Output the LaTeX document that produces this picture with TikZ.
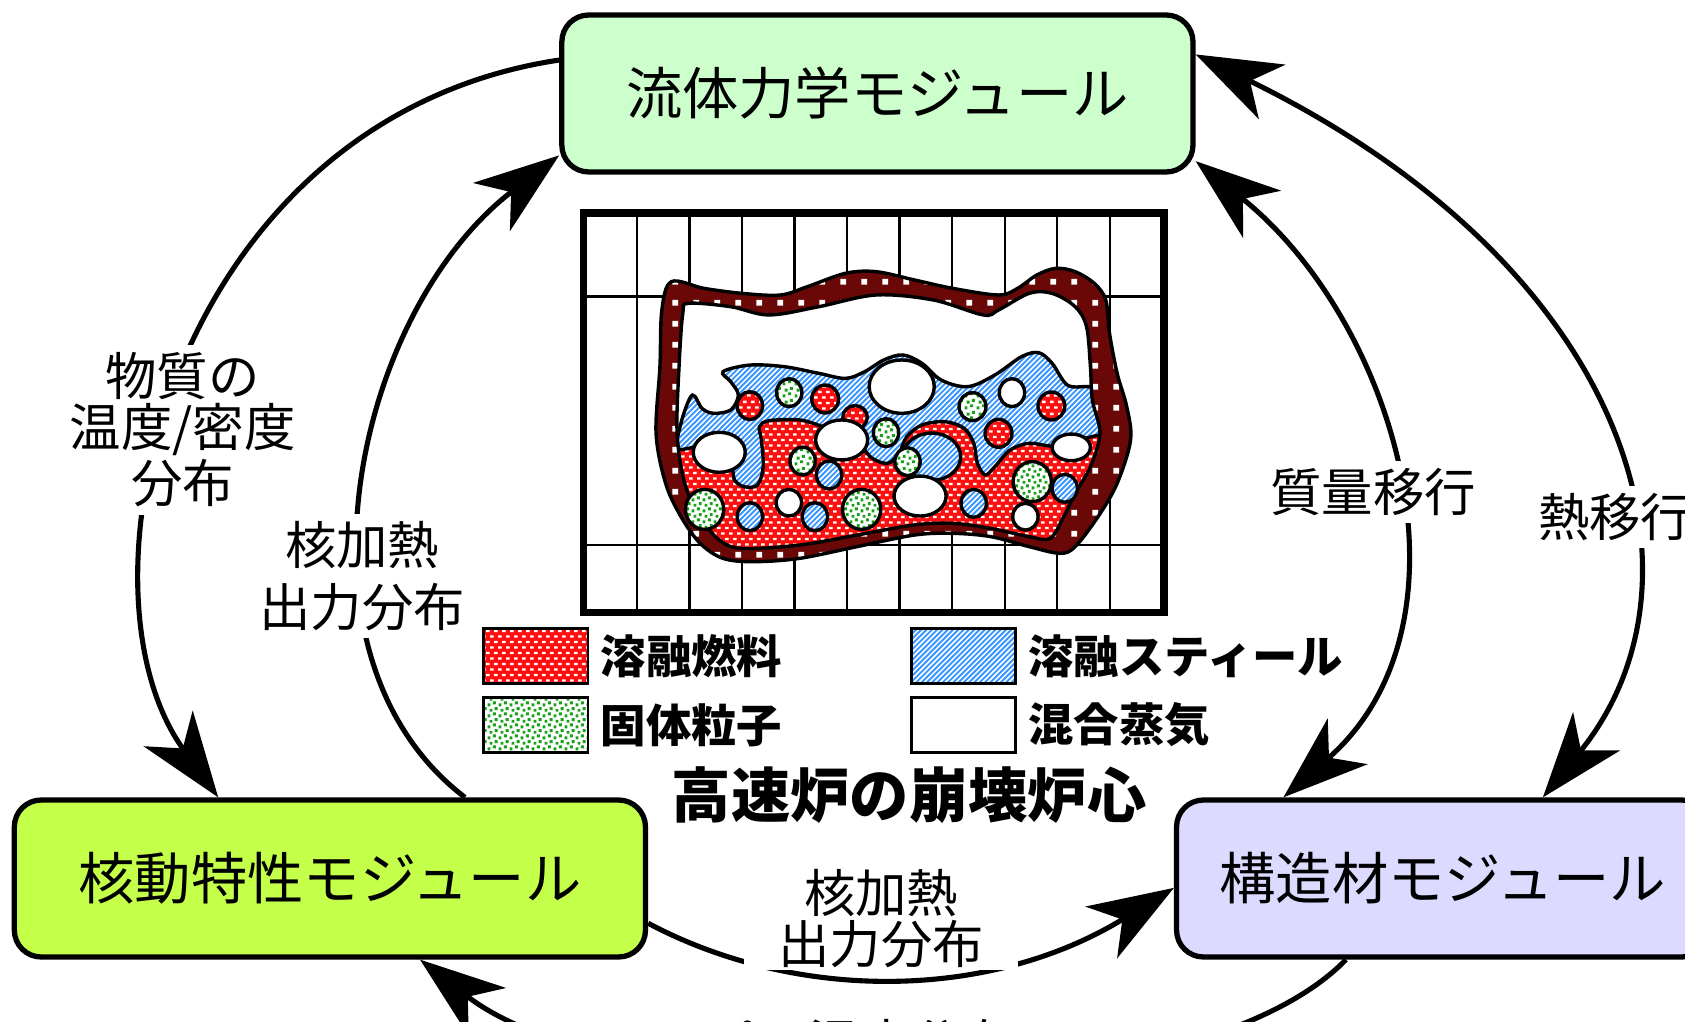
\documentclass[tikz,border=0pt]{standalone}
\usepackage{fontspec}
\setmainfont{Noto Sans CJK JP}
\usetikzlibrary{arrows.meta,patterns,positioning}

\definecolor{fluidgreen}{RGB}{204,255,204}
\definecolor{nucleargreen}{RGB}{196,255,74}
\definecolor{structlilac}{RGB}{220,218,255}
\definecolor{fuelred}{RGB}{255,16,16}
\definecolor{steelblue}{RGB}{58,150,255}
\definecolor{solidgreen}{RGB}{24,160,24}
\definecolor{banddark}{RGB}{106,8,8}

\pgfdeclarepatternformonly{fuelmark}{\pgfpointorigin}{\pgfpoint{2.2pt}{3pt}}{\pgfpoint{2.2pt}{3pt}}{
  \pgfpathrectangle{\pgfpoint{0.05pt}{0.4pt}}{\pgfpoint{1pt}{0.62pt}}
  \pgfpathrectangle{\pgfpoint{1.15pt}{1.9pt}}{\pgfpoint{1pt}{0.62pt}}
  \pgfusepath{fill}}
\pgfdeclarepatternformonly{steelmark}{\pgfpoint{-0.5pt}{-0.5pt}}{\pgfpoint{1.9pt}{1.9pt}}{\pgfpoint{1.4pt}{1.4pt}}{
  \pgfsetlinewidth{0.5pt}
  \pgfpathmoveto{\pgfpointorigin}
  \pgfpathlineto{\pgfpoint{1.45pt}{1.45pt}}
  \pgfusepath{stroke}}
\pgfdeclarepatternformonly{solidmark}{\pgfpointorigin}{\pgfpoint{3pt}{3pt}}{\pgfpoint{3pt}{3pt}}{
  \pgfpathrectangle{\pgfpoint{0.15pt}{0.2pt}}{\pgfpoint{0.8pt}{0.8pt}}
  \pgfpathrectangle{\pgfpoint{1.65pt}{0.75pt}}{\pgfpoint{0.8pt}{0.8pt}}
  \pgfpathrectangle{\pgfpoint{0.7pt}{1.75pt}}{\pgfpoint{0.8pt}{0.8pt}}
  \pgfpathrectangle{\pgfpoint{2.15pt}{2.2pt}}{\pgfpoint{0.8pt}{0.8pt}}
  \pgfusepath{fill}}
\pgfdeclarepatternformonly{bandmark}{\pgfpointorigin}{\pgfpoint{5.5pt}{5.5pt}}{\pgfpoint{5.5pt}{5.5pt}}{
  \pgfpathrectangle{\pgfpoint{2pt}{2pt}}{\pgfpoint{1.5pt}{1.5pt}}
  \pgfusepath{fill}}

\newcommand\cavitypath{plot[smooth cycle, tension=0.55] coordinates {(640.8,282.3) (680,285.4) (715.6,293.1) (761.9,285.4) (815.3,274.5) (868.7,279.2) (915,293.1) (929.2,288.5) (957.7,273) (979.1,273) (1000.5,285.4) (1011.1,304) (1014.7,341.2) (1016.5,372.2) (1023.6,403.2) (1014.7,434.3) (1000.5,459.1) (989.8,480.8) (977.3,501) (957.7,499.4) (922.1,491.7) (886.5,487) (850.9,488.5) (797.5,497.9) (744.1,507.2) (690.6,510.3) (669.3,502.5) (651.5,480.8) (637.2,449.8) (630.1,403.2) (631.9,341.2) (635.4,291.6)}}

\begin{document}
\begin{tikzpicture}[x=0.01cm, y=-0.01cm, >={Stealth[length=22.5pt,width=16pt,inset=6.5pt]},
    module/.style={draw, line width=1.4pt, rounded corners=0.25cm, minimum width=5.87cm, minimum height=1.46cm, font=\fontsize{14.9}{18}\selectfont},
    flow/.style={line width=1.35pt},
    flowtext/.style={fill=white, align=center, inner sep=2pt, font=\fontsize{13.6}{13.4}\selectfont},
    keybox/.style={draw, line width=0.7pt, minimum width=0.97cm, minimum height=0.51cm, inner sep=0pt},
    keytext/.style={inner sep=0pt, font=\bfseries\fontsize{12}{14}\selectfont},
    fuel/.style={preaction={fill=fuelred}, pattern=fuelmark, pattern color=white},
    steel/.style={preaction={fill=white}, pattern=steelmark, pattern color=steelblue},
    solid/.style={preaction={fill=white}, pattern=solidmark, pattern color=solidgreen},
    band/.style={preaction={fill=banddark}, pattern=bandmark, pattern color=white},
    edge/.style={line width=0.9pt}]
  \useasboundingbox (0,0) rectangle (1568,951);

  \foreach \gx in {0,...,9}
    \draw[line width=0.6pt] (592.6+48.9*\gx,198) -- (592.6+48.9*\gx,570);
  \draw[line width=0.6pt] (543,276) -- (1083,276) (543,507) -- (1083,507);
  \draw[line width=2pt] (543,198) rectangle (1083,570);

  \draw[band, edge] plot[smooth cycle, tension=0.55] coordinates {(624.8,262.1) (615.9,288.5) (614.1,341.2) (610.5,403.2) (619.4,449.8) (633.7,480.8) (651.5,505.6) (672.8,519.6) (701.3,522.7) (744.1,519.6) (797.5,508.7) (850.9,497.9) (886.5,496.3) (922.1,499.4) (957.7,508.7) (986.2,514.9) (1000.5,508.7) (1021.8,480.8) (1039.6,449.8) (1052.1,409.4) (1048.5,378.4) (1039.6,347.4) (1032.5,310.2) (1029,279.2) (1018.3,263.7) (1000.5,252.8) (982.6,249.7) (964.8,255.9) (947,268.3) (929.2,274.5) (886.5,268.3) (850.9,260.5) (815.3,252.8) (786.8,254.3) (751.2,266.8) (726.3,274.5) (690.6,273) (655,268.3)};
  \fill[white] \cavitypath;
  \begin{scope}
    \clip \cavitypath;
    \draw[steel, edge] plot[smooth, tension=0.55] coordinates {(628,418) (635.4,387.7) (644.4,367.6) (653.3,380) (663.9,384.6) (680,381.5) (687.1,367.6) (680,355.2) (672.8,345.9) (697.8,339.7) (729.8,341.2) (761.9,347.4) (786.8,352.1) (804.6,345.9) (822.4,335) (840.2,330.3) (858,338.1) (875.8,353.6) (900.7,359.8) (925.7,349) (950.6,331.9) (966.6,328.2) (979.1,338.1) (993.3,358.3) (1012.9,359.8) (1030,362)} -- (1045,362) -- (1045,540) -- (610,540) -- (610,418) -- cycle;
    \draw[fuel, edge] plot[smooth, tension=0.55] coordinates {(612,419) (630.8,418.8) (647.9,415.6) (658.6,412.5) (680,434.3) (683.5,446.7) (692.4,452.9) (704.9,451.3) (710.2,434.3) (708.5,409.4) (706.7,397) (715.6,391.5) (744.1,390.8) (765.4,397) (779.7,403.2) (801,415.6) (811.7,426.5) (826,431.2) (836.6,421.9) (843.8,406.3) (858,395.5) (879.4,392.4) (897.2,398.6) (906.1,412.5) (909.6,431.2) (916.8,442) (925.7,434.3) (939.9,418.8) (957.7,412.5) (979.1,415) (1000.5,410.1) (1023.6,404.8) (1040,404)} -- (1045,540) -- (610,540) -- cycle;
  \end{scope}
  \draw[edge] \cavitypath;
  \draw[steel, edge] (867,425) ellipse [x radius=27, y radius=22];

  \foreach \cx/\cy/\rx/\ry in {697.8/377.5/11.8/13, 767.9/371.3/12.5/13, 795.7/388.3/11.4/10.9, 978.4/377.8/12.5/13, 929.2/403.2/12.5/13}
    \draw[fuel, edge] (\cx,\cy) ellipse [x radius=\rx, y radius=\ry];
  \foreach \cx/\cy/\rx/\ry in {771.5/442/11.8/13, 697.8/480.8/11.8/13, 758.3/480.8/11.8/13, 906.1/468.4/11.8/13, 990.8/454.4/11.8/13}
    \draw[steel, edge] (\cx,\cy) ellipse [x radius=\rx, y radius=\ry];
  \foreach \cx/\cy/\rx/\ry in {734.4/365.4/11.8/13, 905/378.4/12.5/13, 824.5/402.6/11.8/13, 746.9/429/11.8/13, 844.5/429.6/11.8/13, 655.7/474/17.8/18.6, 801.8/474/17.8/18.6, 960.6/448.2/17.8/18.6}
    \draw[solid, edge] (\cx,\cy) ellipse [x radius=\rx, y radius=\ry];
  \foreach \cx/\cy/\rx/\ry in {839.1/359.8/30.3/24.8, 669.3/420.9/24.2/18.6, 783.2/409.4/24.2/18.6, 941.7/365.4/11.8/13, 996.9/416.3/17.8/12.4, 856.2/461.6/24.2/18.6, 734.1/467.8/11.8/12.4, 954.2/480.8/11.8/12.4}
    \draw[fill=white, edge] (\cx,\cy) ellipse [x radius=\rx, y radius=\ry];

  \node[keybox, fuel] (keyfuel) at (498.5,610.5) {};
  \node[keybox, solid] (keysolid) at (498.5,674.5) {};
  \node[keybox, steel] (keysteel) at (896.5,610.5) {};
  \node[keybox, fill=white] (keyvapor) at (896.5,674.5) {};
  \node[keytext, right=0.1cm of keyfuel] (fueltext) {溶融燃料};
  \node[keytext, right=0.1cm of keysolid] (solidtext) {固体粒子};
  \node[keytext, right=0.1cm of keysteel] (steeltext) {\addfontfeatures{CharacterWidth=Proportional}溶融スティール};
  \node[keytext, right=0.1cm of keyvapor] (vaportext) {混合蒸気};
  \node[font=\bfseries\fontsize{15.7}{18}\selectfont] (coretitle) at (846,740) {高速炉の崩壊炉心};

  \node[module, fill=fluidgreen] (fluid) at (816.5,87) {流体力学モジュール};
  \node[module, fill=nucleargreen] (nuclear) at (307,817.5) {核動特性モジュール};
  \node[module, fill=structlilac, minimum width=4.95cm] (struct) at (1342.5,817.5) {構造材モジュール};

  \draw[flow, ->] (fluid.174.5) .. controls (160,110) and (60,545) .. (nuclear.144.6);
  \draw[flow, ->] (nuclear.31.6) .. controls (260,610) and (330,290) .. (fluid.191.5);
  \draw[flow, <->] (fluid.-12.4) .. controls (1300,300) and (1380,580) .. (struct.153.8);
  \draw[flow, <->] (fluid.7) .. controls (1520,250) and (1600,540) .. (struct.39.4);
  \draw[flow, ->] (nuclear.-8) .. controls (740,932) and (920,932) .. (struct.182.4);
  \draw[flow, ->] (struct.220.6) .. controls (1110,1040) and (580,1040) .. (nuclear.-42.6);

  \node[flowtext] (matlabel) at (170,400) {物質の\\温度/密度\\分布};
  \node[flowtext] (heatlabel) at (337,536) {核加熱\\[3pt]出力分布};
  \node[flowtext] (masslabel) at (1278,458) {質量移行};
  \node[flowtext] (thermlabel) at (1503,481) {熱移行};
  \node[flowtext, inner ysep=0.5pt, inner xsep=9pt] (powerlabel) at (820,855) {核加熱\\出力分布};
  \node[flowtext] (pinlabel) at (800,971) {ピン温度分布};
\end{tikzpicture}
\end{document}
